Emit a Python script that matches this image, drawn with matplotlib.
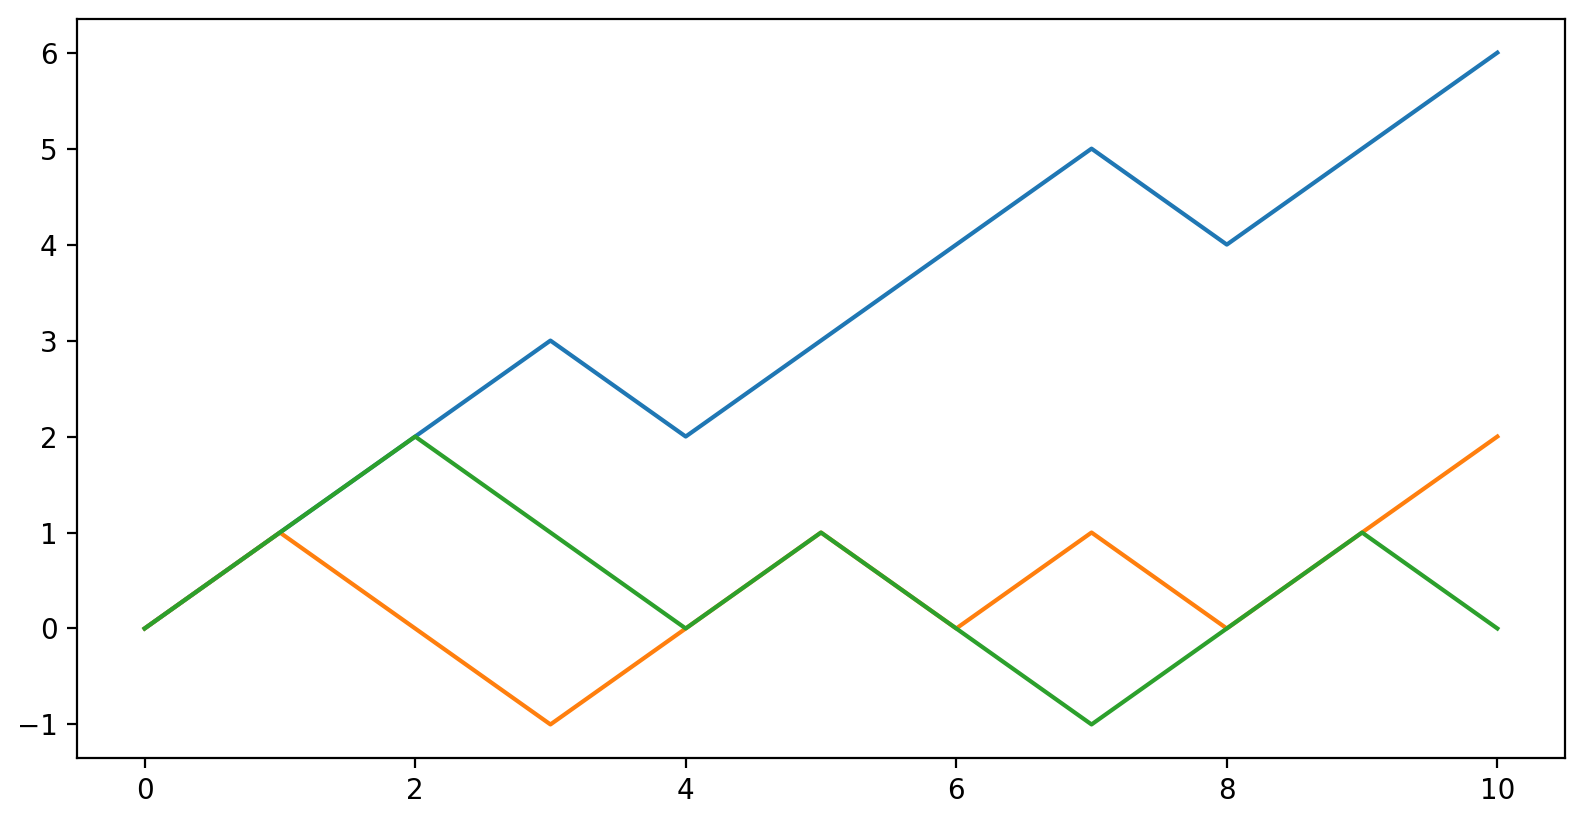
import matplotlib
matplotlib.use("Agg")
import matplotlib.pyplot as plt

steps = list(range(11))
walk_a = [0, 1, 2, 3, 2, 3, 4, 5, 4, 5, 6]
walk_b = [0, 1, 0, -1, 0, 1, 0, 1, 0, 1, 2]
walk_c = [0, 1, 2, 1, 0, 1, 0, -1, 0, 1, 0]

fig = plt.figure(figsize=(7.92, 4.11), dpi=200)
ax = fig.add_axes([0.0486, 0.0778, 0.9394, 0.899])
ax.plot(steps, walk_a)
ax.plot(steps, walk_b)
ax.plot(steps, walk_c)
fig.savefig("out.png", dpi=200)
